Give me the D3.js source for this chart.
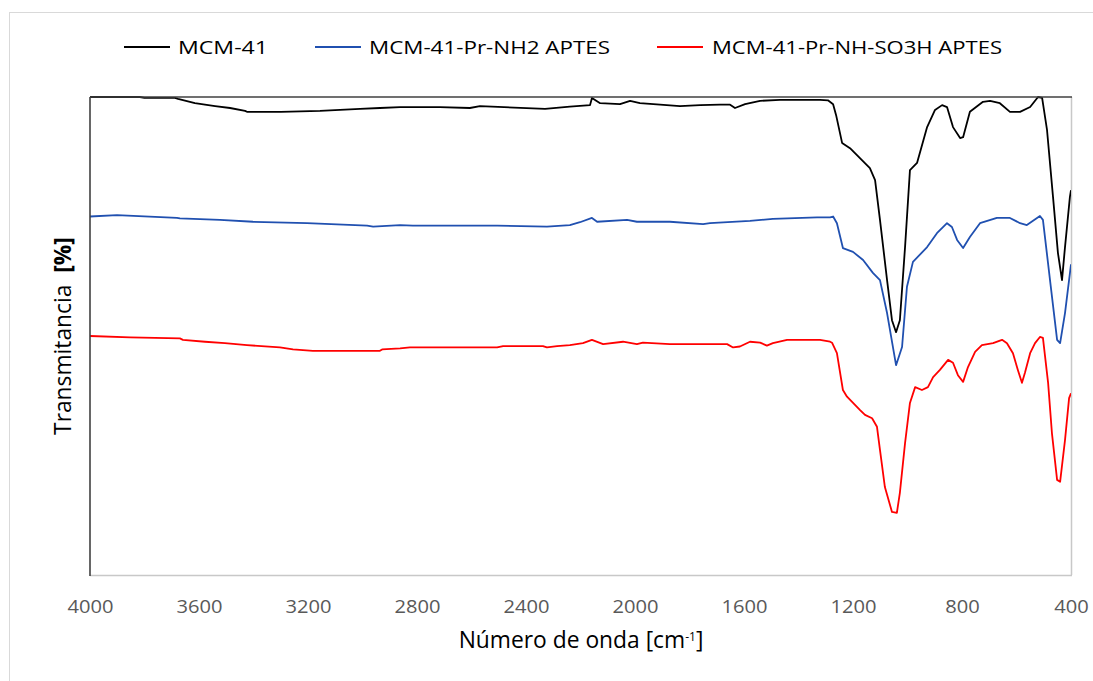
<!DOCTYPE html>
<html>
<head>
<meta charset="utf-8">
<script src="https://cdn.jsdelivr.net/npm/d3@7"></script>
<style>
  html, body { margin: 0; padding: 0; background: #fff; }
  svg { display: block; }
  text { font-family: "Open Sans", Lato, sans-serif; }
</style>
</head>
<body>
<svg id="chart" width="1093" height="681"></svg>
<script>
// ---- data (wavenumber cm-1, transmittance %) ----
const seriesNames = ["MCM-41", "MCM-41-Pr-NH2 APTES", "MCM-41-Pr-NH-SO3H APTES"];
const xTicks = [4000, 3600, 3200, 2800, 2400, 2000, 1600, 1200, 800, 400];

const mcm41 = [
  [4000,100],[3817,100],[3800,99.8],[3688,99.8],[3677,99.6],[3615,98.7],[3541,98.1],[3486,97.7],
  [3431,97.1],[3424,96.9],[3300,96.9],[3156,97.1],[3009,97.5],[2936,97.7],[2862,97.9],[2716,97.9],
  [2606,97.7],[2569,98.1],[2330,97.5],[2239,98.0],[2165,98.3],[2158,99.8],[2128,98.7],[2055,98.5],
  [2018,99.2],[1982,98.7],[1908,98.4],[1835,98.1],[1761,98.3],[1688,98.4],[1651,98.4],[1633,97.7],
  [1596,98.5],[1541,99.2],[1468,99.4],[1395,99.4],[1321,99.4],[1292,99.3],[1273,98.5],[1262,96.2],
  [1240,90.4],[1211,89.3],[1138,85.1],[1119,82.6],[1101,74.3],[1075,61.7],[1057,53.3],[1042,50.8],
  [1028,53.3],[1009,68.6],[991,84.7],[965,86.2],[928,93.7],[899,97.3],[873,98.3],[855,97.9],
  [833,93.7],[807,91.4],[796,91.6],[771,96.9],[723,99.0],[697,99.2],[661,98.7],[624,96.9],
  [587,96.9],[550,97.9],[521,100],[506,99.8],[488,93.1],[466,79.1],[448,67.4],[433,61.7],
  [422,68.6],[404,79.1],[400,80.5]
];

const mcm41NH2 = [
  [4000,75.0],[3901,75.3],[3681,74.7],[3670,74.6],[3523,74.3],[3402,73.9],[3204,73.6],[2983,73.1],
  [2961,72.9],[2862,73.2],[2815,73.1],[2617,73.1],[2506,73.1],[2323,72.9],[2239,73.2],[2202,73.8],
  [2158,74.7],[2139,73.9],[2029,74.3],[1993,73.9],[1872,73.9],[1750,73.4],[1725,73.6],[1578,74.1],
  [1494,74.5],[1332,74.8],[1284,74.8],[1273,75.0],[1259,73.6],[1237,68.4],[1200,67.6],[1163,65.9],
  [1127,63.2],[1101,61.7],[1075,54.8],[1042,43.9],[1020,47.7],[1002,60.3],[980,65.5],[928,68.6],
  [892,71.5],[855,73.6],[837,72.8],[818,70.1],[796,68.4],[771,70.7],[734,73.6],[672,74.7],
  [624,74.7],[587,73.6],[562,73.2],[514,75.1],[503,74.3],[477,61.7],[451,49.2],[440,48.5],
  [422,54.8],[400,65.0]
];

const mcm41SO3H = [
  [4000,50.0],[3853,49.7],[3670,49.5],[3659,49.2],[3578,48.8],[3505,48.5],[3424,48.1],[3303,47.6],
  [3255,47.2],[3182,46.9],[2936,46.9],[2928,47.2],[2862,47.4],[2826,47.6],[2569,47.6],[2506,47.6],
  [2484,47.9],[2338,47.9],[2323,47.6],[2286,47.9],[2239,48.1],[2191,48.5],[2158,49.2],[2117,48.3],
  [2044,48.8],[1993,48.3],[1971,48.6],[1872,48.3],[1662,48.3],[1640,47.6],[1615,47.8],[1578,48.8],
  [1541,48.6],[1516,48.0],[1494,48.5],[1442,49.2],[1321,49.2],[1284,48.8],[1277,48.6],[1259,46.4],
  [1237,38.7],[1222,37.3],[1174,34.5],[1156,33.5],[1130,32.8],[1112,31.0],[1101,26.2],[1083,18.4],
  [1057,13.2],[1039,13.0],[1028,17.2],[1009,27.6],[991,36.0],[972,39.3],[947,38.7],[925,39.3],
  [906,41.4],[881,42.9],[851,45.0],[833,44.4],[815,41.8],[796,40.4],[778,43.5],[752,46.7],
  [727,48.1],[686,48.5],[653,49.2],[635,48.5],[613,46.4],[595,42.9],[580,40.2],[569,42.3],
  [550,46.4],[532,48.5],[514,49.8],[503,49.6],[484,40.2],[470,29.7],[451,19.9],[440,19.5],
  [422,28.2],[407,37.0],[400,38.0]
];

const seriesData = [mcm41, mcm41NH2, mcm41SO3H];
const seriesColors = ["#000000", "#2050b0", "#ff0000"];

// ---- layout ----
const svg = d3.select("#chart");
const plot = { left: 90, right: 1071, top: 97, bottom: 575 };

// outer chart border
svg.append("rect")
  .attr("x", 9.5).attr("y", 12.5).attr("width", 1100).attr("height", 700)
  .attr("fill", "#fff").attr("stroke", "#d9d9d9").attr("stroke-width", 1);

const x = d3.scaleLinear().domain([4000, 400]).range([plot.left, plot.right]);
const y = d3.scaleLinear().domain([0, 100]).range([plot.bottom, plot.top]);

svg.append("clipPath").attr("id", "clip")
  .append("rect")
  .attr("x", plot.left).attr("y", plot.top - 1)
  .attr("width", plot.right - plot.left).attr("height", plot.bottom - plot.top + 1);

// plot frame: right & bottom light gray
svg.append("line").attr("x1", plot.right + 0.5).attr("x2", plot.right + 0.5)
  .attr("y1", plot.top).attr("y2", plot.bottom)
  .attr("stroke", "#c8c8c8").attr("stroke-width", 1.5);
svg.append("line").attr("x1", plot.left).attr("x2", plot.right + 1)
  .attr("y1", plot.bottom + 0.5).attr("y2", plot.bottom + 0.5)
  .attr("stroke", "#c8c8c8").attr("stroke-width", 1.5);

// series
const line = d3.line().x(d => x(d[0])).y(d => y(d[1]));
const g = svg.append("g").attr("clip-path", "url(#clip)");
seriesData.forEach((data, i) => {
  g.append("path")
    .datum(data)
    .attr("d", line)
    .attr("fill", "none")
    .attr("stroke", seriesColors[i])
    .attr("stroke-width", 1.8)
    .attr("stroke-linejoin", "round");
});

// left axis & top line (dark)
svg.append("line").attr("x1", plot.left).attr("x2", plot.left)
  .attr("y1", plot.top).attr("y2", plot.bottom + 1)
  .attr("stroke", "#404040").attr("stroke-width", 1.6);
svg.append("line").attr("x1", plot.left).attr("x2", plot.right + 1)
  .attr("y1", plot.top).attr("y2", plot.top)
  .attr("stroke", "#404040").attr("stroke-width", 1.6);

// x axis tick labels
const xAxis = d3.axisBottom(x).tickValues(xTicks).tickSize(0).tickPadding(0).tickFormat(d3.format("d"));
const ax = svg.append("g").attr("transform", `translate(0,${plot.bottom + 24})`).call(xAxis);
ax.select(".domain").remove();
ax.selectAll("text")
  .attr("fill", "#595959")
  .style("font-family", "'Open Sans', sans-serif")
  .style("font-size", "19px")
  .attr("textLength", d => String(d).length * 11.5)
  .attr("lengthAdjust", "spacingAndGlyphs");

// x title
const xt = svg.append("text")
  .attr("x", 581).attr("y", 648)
  .attr("text-anchor", "middle")
  .attr("fill", "#000")
  .style("font-size", "19px");
xt.append("tspan").text("Número de onda [cm");
xt.append("tspan").text("-1").attr("dy", -7).style("font-size", "12px");
xt.append("tspan").text("]").attr("dy", 7);
{
  const w = xt.node().getComputedTextLength();
  xt.style("font-size", (19 * 247 / w).toFixed(2) + "px");
}

// y title
const yt = svg.append("text")
  .attr("transform", `translate(71,${336}) rotate(-90)`)
  .attr("text-anchor", "middle")
  .attr("fill", "#000")
  .style("font-size", "19px")
  .style("white-space", "pre");
yt.append("tspan").text("Transmitancia  ");
yt.append("tspan").text("[%]").style("font-weight", "bold");
{
  const w = yt.node().getComputedTextLength();
  yt.style("font-size", (19 * 198 / w).toFixed(2) + "px");
}

// legend
const legendItems = [
  { lx: 124, tx: 178, w: 90 },
  { lx: 315, tx: 369, w: 241 },
  { lx: 657, tx: 712, w: 290 }
];
seriesNames.forEach((name, i) => {
  const it = legendItems[i];
  svg.append("line")
    .attr("x1", it.lx).attr("x2", it.lx + 46)
    .attr("y1", 47).attr("y2", 47)
    .attr("stroke", seriesColors[i]).attr("stroke-width", 2);
  svg.append("text")
    .attr("x", it.tx).attr("y", 54)
    .attr("fill", "#000")
    .style("font-size", "18px")
    .attr("textLength", it.w)
    .attr("lengthAdjust", "spacingAndGlyphs")
    .text(name);
});
</script>
</body>
</html>
